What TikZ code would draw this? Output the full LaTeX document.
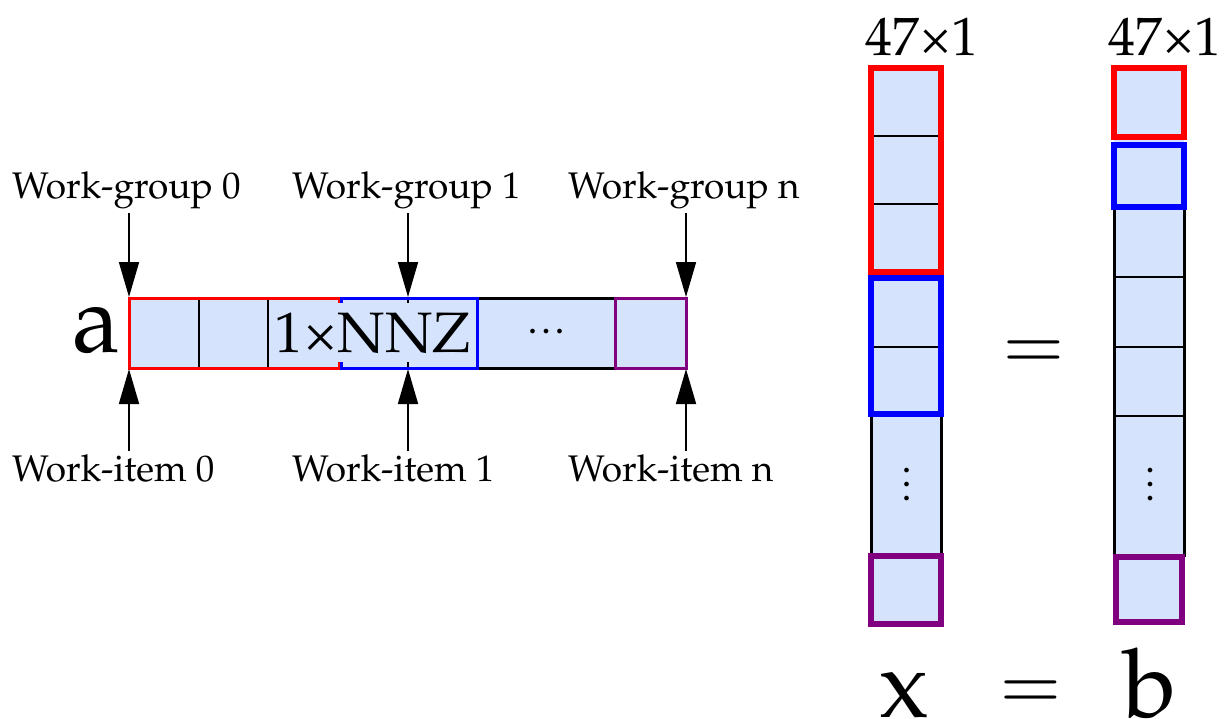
\documentclass[tikz,border=0pt]{standalone}
\usepackage[T1]{fontenc}
\usepackage{mathpazo}
\usetikzlibrary{arrows.meta}
\definecolor{cellfill}{RGB}{213,227,252}
\definecolor{grpred}{RGB}{255,0,0}
\definecolor{grpblue}{RGB}{0,0,255}
\definecolor{grppurple}{RGB}{128,0,128}
% three stacked dots for the elided part of a column
\newcommand{\colvdots}{\vbox{\baselineskip=14pt\lineskiplimit=0pt\lineskip=0pt
  \hbox{.}\hbox{.}\hbox{.}}}
% three dots in a row for the elided part of the row vector
\newcommand{\rowhdots}{\hbox{.\kern6pt.\kern6pt.}}
\begin{document}
\begin{tikzpicture}[x=1pt,y=-1pt,
  lbl/.style={anchor=base west,inner sep=0pt,font=\fontsize{37}{40}\selectfont},
  ptr/.style={line width=1.7pt,-{Triangle[length=35pt,width=20pt]}},
  divider/.style={line width=1.3pt},
  coldiv/.style={line width=1.5pt},
  colside/.style={line width=3pt},
  grp/.style={line width=3pt},
  colgrp/.style={line width=6pt},
  big/.style={inner sep=0pt,font=\fontsize{96}{100}\selectfont},
  eqsign/.style={inner sep=0pt,anchor=base,font=\fontsize{75}{80}\selectfont},
  dim/.style={anchor=base west,inner sep=0pt,font=\fontsize{54}{60}\selectfont},
  dotsnode/.style={inner sep=0pt,font=\bfseries\fontsize{30}{14}\selectfont}]
\useasboundingbox (0,0) rectangle (1225,718);

% ---- row vector a ----
\fill[cellfill] (129,298) rectangle (686,368);
\draw[divider] (199,298) -- (199,368) (268,298) -- (268,368) (408,298) -- (408,368);
\draw[line width=3pt] (477,298) -- (615,298) (477,368) -- (615,368);
\draw[grp,grpred] (129,298) rectangle (339,368);
\draw[grp,grpblue] (341,298) rectangle (477,368);
\draw[grp,grppurple] (615,298) rectangle (686,368);
\node[fill=cellfill,inner sep=0pt,text height=49pt,text depth=10pt,anchor=base,
      font=\fontsize{57}{60}\selectfont] (nnz) at (372.5,352) {1\texttimes NNZ};
\node[dotsnode] (dots) at (546,332) {\rowhdots};
\node[big,anchor=base east] (a) at (121,352) {a};

% ---- work-group / work-item labels and pointers ----
\node[lbl] (wg0) at (12,198) {Work-group 0};
\node[lbl] (wg1) at (292,198) {Work-group 1};
\node[lbl] (wgn) at (568,198) {Work-group n};
\node[lbl] (wi0) at (12,481) {Work-item 0};
\node[lbl] (wi1) at (292,481) {Work-item 1};
\node[lbl] (win) at (568,481) {Work-item n};
\coordinate (t0) at (129,297);
\coordinate (t1) at (408,297);
\coordinate (tn) at (686,297);
\coordinate (b0) at (129,369);
\coordinate (b1) at (408,369);
\coordinate (bn) at (686,369);
\draw[ptr] (129,213) -- (t0);
\draw[ptr] (408,213) -- (t1);
\draw[ptr] (686,213) -- (tn);
\draw[ptr] (129,451) -- (b0);
\draw[ptr] (408,451) -- (b1);
\draw[ptr] (686,451) -- (bn);

% ---- column vector x ----
\fill[cellfill] (871,68) rectangle (941,624);
\draw[coldiv] (871,136) -- (941,136) (871,204) -- (941,204) (871,347) -- (941,347);
\draw[colside] (871,414) -- (871,556) (941,414) -- (941,556);
\draw[colgrp,grpred] (871,68) rectangle (941,272);
\draw[colgrp,grpblue] (871,278) rectangle (941,414);
\draw[colgrp,grppurple] (871,556) rectangle (941,624);
\node[dotsnode] (xd) at (906.5,485) {\colvdots};
\node[dim] (xdim) at (865,55) {47\texttimes 1};

% ---- column vector b ----
\fill[cellfill] (1114,68) rectangle (1184,622);
\draw[coldiv] (1114,277) -- (1184,277) (1114,347) -- (1184,347) (1114,416) -- (1184,416);
\draw[colside] (1114,207) -- (1114,557) (1184,207) -- (1184,557);
\draw[colgrp,grpred] (1114,68) rectangle (1184,137);
\draw[colgrp,grpblue] (1114,145) rectangle (1184,207);
\draw[colgrp,grppurple] (1116,557) rectangle (1182,622);
\node[dotsnode] (bd) at (1150,485) {\colvdots};
\node[dim] (bdim) at (1108,55) {47\texttimes 1};

% ---- equation ----
\node[eqsign] (eqm) at (1034,369) {$=$};
\node[big,anchor=base] (xl) at (904,717) {x};
\node[eqsign] (eqb) at (1031,709) {$=$};
\node[big,anchor=base] (bl) at (1150,717) {b};
\end{tikzpicture}
\end{document}
